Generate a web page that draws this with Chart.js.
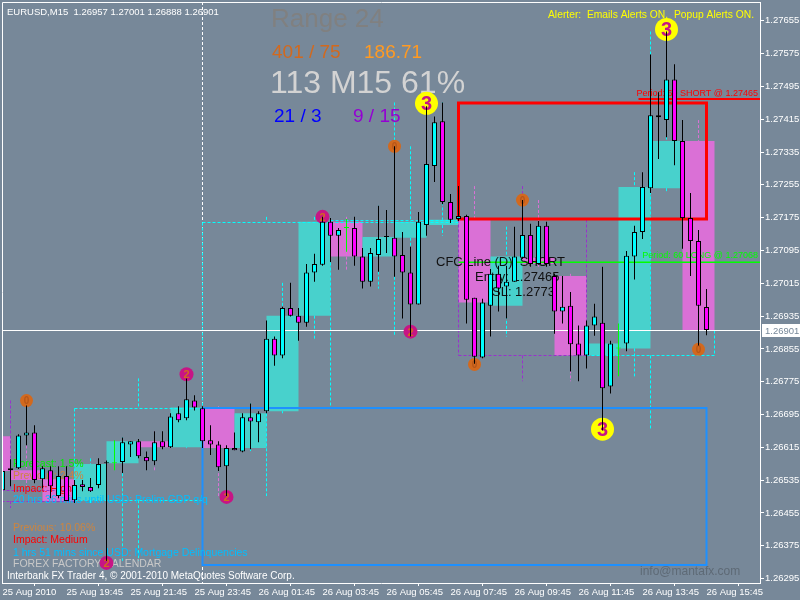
<!DOCTYPE html>
<html>
<head>
<meta charset="utf-8">
<script src="https://cdn.jsdelivr.net/npm/chart.js@4.4.1/dist/chart.umd.min.js"></script>
<style>
html,body{margin:0;padding:0;background:#778899;}
canvas{display:block;}
</style>
</head>
<body>
<canvas id="c" width="800" height="600"></canvas>
<script>
// ---------------- data (EURUSD M15, 25 Aug 17:45 .. 26 Aug 15:45) ----------------
const titleText = 'EURUSD,M15  1.26957 1.27001 1.26888 1.26901';
const opens = [1.26510,1.26559,1.26564,1.26644,1.26651,1.26537,1.26559,1.26496,1.26545,1.26486,
1.26525,1.26518,1.26523,1.26576,1.26576,1.26579,1.26622,1.26630,1.26591,1.26581,
1.26630,1.26615,1.26698,1.26686,1.26729,1.26710,1.26632,1.26622,1.26569,1.26613,
1.26605,1.26688,1.26676,1.26703,1.26880,1.26839,1.26955,1.26936,1.26919,1.27041,
1.27060,1.27165,1.27131,1.27150,1.27150,1.27080,1.27019,1.27084,1.27128,1.27126,
1.27084,1.27041,1.26963,1.27157,1.27301,1.27410,1.27213,1.27172,1.27179,1.26980,
1.26834,1.26960,1.27038,1.27007,1.27019,1.27077,1.27133,1.27062,1.27155,1.27033,
1.26946,1.26960,1.26868,1.26839,1.26912,1.26919,1.26763,1.26856,1.26868,1.27080,
1.27140,1.27247,1.27425,1.27413,1.27512,1.27362,1.27174,1.27118,1.26957];
const highs = [1.26564,1.26586,1.26647,1.26717,1.26669,1.26569,1.26569,1.26569,1.26569,1.26535,
1.26535,1.26540,1.26588,1.26583,1.26632,1.26639,1.26630,1.26635,1.26605,1.26654,
1.26654,1.26698,1.26715,1.26783,1.26742,1.26715,1.26669,1.26630,1.26620,1.26651,
1.26698,1.26722,1.26703,1.26924,1.26885,1.26958,1.27016,1.26955,1.27062,1.27087,
1.27177,1.27174,1.27150,1.27172,1.27177,1.27101,1.27101,1.27204,1.27194,1.27349,
1.27140,1.27104,1.27189,1.27447,1.27422,1.27456,1.27233,1.27252,1.27182,1.26980,
1.26977,1.27050,1.27058,1.27058,1.27153,1.27218,1.27160,1.27167,1.27165,1.27038,
1.27033,1.26994,1.26912,1.26924,1.26965,1.27055,1.26875,1.26917,1.27094,1.27155,
1.27286,1.27573,1.27481,1.27629,1.27549,1.27413,1.27235,1.27145,1.27001];
const lows = [1.26501,1.26520,1.26562,1.26620,1.26527,1.26515,1.26491,1.26491,1.26484,1.26479,
1.26508,1.26506,1.26515,1.26338,1.26559,1.26552,1.26591,1.26588,1.26559,1.26571,
1.26610,1.26613,1.26676,1.26681,1.26705,1.26613,1.26596,1.26557,1.26496,1.26608,
1.26603,1.26610,1.26627,1.26698,1.26814,1.26832,1.26934,1.26875,1.26909,1.27019,
1.27058,1.27067,1.27048,1.27092,1.27058,1.27002,1.27007,1.27043,1.27089,1.27031,
1.26929,1.26885,1.26963,1.27131,1.27262,1.27208,1.27162,1.27167,1.26917,1.26819,
1.26832,1.26885,1.26946,1.26929,1.27019,1.27075,1.27055,1.27060,1.27055,1.26892,
1.26917,1.26800,1.26776,1.26807,1.26887,1.26656,1.26746,1.26788,1.26849,1.27024,
1.27123,1.27235,1.27318,1.27371,1.27303,1.27099,1.27033,1.26863,1.26888];
const closes = [1.26557,1.26564,1.26644,1.26651,1.26535,1.26564,1.26520,1.26545,1.26484,1.26523,
1.26518,1.26508,1.26574,1.26576,1.26576,1.26627,1.26630,1.26593,1.26581,1.26627,
1.26615,1.26690,1.26681,1.26732,1.26712,1.26630,1.26622,1.26566,1.26613,1.26608,
1.26688,1.26678,1.26698,1.26880,1.26839,1.26955,1.26936,1.26919,1.27041,1.27062,
1.27165,1.27131,1.27145,1.27150,1.27080,1.27019,1.27089,1.27123,1.27128,1.27080,
1.27041,1.26963,1.27165,1.27306,1.27408,1.27213,1.27170,1.27179,1.26975,1.26836,
1.26968,1.27038,1.27002,1.27019,1.27080,1.27133,1.27062,1.27155,1.27062,1.26946,
1.26958,1.26866,1.26839,1.26912,1.26934,1.26759,1.26868,1.26856,1.27082,1.27140,
1.27250,1.27425,1.27420,1.27512,1.27362,1.27174,1.27118,1.26960,1.26901];
const greenDoji = [14, 43, 77];

const xTickIdx = [0, 8, 16, 24, 32, 40, 48, 56, 64, 72, 80, 88];
const xTickLabels = ['25 Aug 2010','25 Aug 19:45','25 Aug 21:45','25 Aug 23:45','26 Aug 01:45','26 Aug 03:45',
  '26 Aug 05:45','26 Aug 07:45','26 Aug 09:45','26 Aug 11:45','26 Aug 13:45','26 Aug 15:45'];
const yTicks = [1.26295,1.26375,1.26455,1.26535,1.26615,1.26695,1.26775,1.26855,1.26935,
  1.27015,1.27095,1.27175,1.27255,1.27335,1.27415,1.27495,1.27575,1.27655];

const prevH1Open = 1.26642;                                   // 17:00 hour open
const prevH4 = { open: 1.26510, high: 1.26729, low: 1.26467 }; // 16:00 H4 bar
const dayStartIndex = 25;
const dayBox = { from: 25, to: 88, top: 1.26712, bottom: 1.26328 };
const sessionBox = { from: 57, to: 88, top: 1.27454, bottom: 1.27172 };
const shortLevel = 1.27465, shortFrom = 79.5;
const longLevel = 1.27068, longFrom = 57;
const bidPrice = 1.26901;

const zigzag0 = [[3,1.26729],[49,1.27349],[59,1.26817],[65,1.27218],[87,1.26854]];
const zigzag2 = [[13,1.26333],[23,1.26793],[28,1.26494],[40,1.27177],[51,1.26897]];
const zigzag3 = [[53,1.27454],[75,1.26659],[83,1.27634]];

const rangeTitle = 'Range 24';
const statA = '401 / 75', statB = '186.71';
const statBig = '113 M15 61%';
const statC = '21 / 3', statD = '9 / 15';
const alerterText = 'Alerter:  Emails Alerts ON.  Popup Alerts ON.';
const shortText = 'Period: 60 SHORT @ 1.27465';
const longText = 'Period: 60 LONG @ 1.27068';
const cfcLines = ['CFC Line (D): SHORT', 'Entry: 1.27465', 'SL: 1.2773'];
const newsLines = [
  ['Forecast: 1.5%', '#00ee00'],
  ['Previous: 2.4%', '#CD853F'],
  ['Impact: High', '#FF0000'],
  ['20 hrs 36 mins until USD: Prelim GDP q/q', '#00BFFF'],
  ['Previous: 10.06%', '#CD853F'],
  ['Impact: Medium', '#FF0000'],
  ['1 hrs 51 mins since USD: Mortgage Delinquencies', '#00BFFF'],
  ['FOREX FACTORY CALENDAR', '#C8C8C8']
];
const copyrightText = 'Interbank FX Trader 4, \u00A9 2001-2010 MetaQuotes Software Corp.';
const emailText = 'info@mantafx.com';

// ---------------- aggregated H1 / H4 bars built from the M15 data ----------------
const N = opens.length;
const h1 = [{ x: -1, open: prevH1Open, close: closes[0], high: null, low: null }];
for (let s = 1; s + 3 < N; s += 4) {
  const ids = [s, s + 1, s + 2, s + 3];
  h1.push({ x: s + 2, open: opens[s], close: closes[s + 3],
    high: Math.max(...ids.map(i => highs[i])), low: Math.min(...ids.map(i => lows[i])) });
}
const h4 = [{ x: 1, from: -7, to: 9, open: prevH4.open, close: closes[8],
  high: Math.max(prevH4.high, ...highs.slice(0, 9)), low: Math.min(prevH4.low, ...lows.slice(0, 9)) }];
for (let s = 9; s + 15 < N; s += 16) {
  h4.push({ x: s + 8, from: s, to: s + 16, open: opens[s], close: closes[s + 15],
    high: Math.max(...highs.slice(s, s + 16)), low: Math.min(...lows.slice(s, s + 16)) });
}

const FONT = '"Liberation Sans", Arial, sans-serif';
const BG = '#778899';

function candleFill(i) {
  if (greenDoji.includes(i)) return '#00FF00';
  if (closes[i] > opens[i]) return '#00FFFF';
  if (closes[i] < opens[i]) return '#FF00FF';
  return '#000000';
}

// ---------------- drawing helpers ----------------
function dashV(ctx, xp, y1, y2, color) {
  if (Math.abs(y2 - y1) < 0.5) return;
  ctx.save(); ctx.strokeStyle = color; ctx.lineWidth = 1; ctx.setLineDash([3, 2]);
  const xx = Math.floor(xp) + 0.5;
  ctx.beginPath(); ctx.moveTo(xx, y1); ctx.lineTo(xx, y2); ctx.stroke(); ctx.restore();
}
function dashH(ctx, x1, x2, yp, color) {
  ctx.save(); ctx.strokeStyle = color; ctx.lineWidth = 1; ctx.setLineDash([3, 2]);
  const yy = Math.round(yp) + 0.5;
  ctx.beginPath(); ctx.moveTo(x1, yy); ctx.lineTo(x2, yy); ctx.stroke(); ctx.restore();
}
function text(ctx, s, x, y, size, color, align, weight) {
  ctx.save(); ctx.font = (weight || '') + ' ' + size + 'px ' + FONT; ctx.fillStyle = color;
  ctx.textAlign = align || 'left'; ctx.textBaseline = 'alphabetic'; ctx.fillText(s, x, y); ctx.restore();
}
function marker(ctx, xp, yp, r, fill, digit, digitColor, size) {
  ctx.save(); ctx.beginPath(); ctx.arc(xp, yp, r, 0, Math.PI * 2); ctx.fillStyle = fill; ctx.fill();
  ctx.font = 'bold ' + size + 'px ' + FONT; ctx.fillStyle = digitColor;
  ctx.textAlign = 'center'; ctx.textBaseline = 'middle'; ctx.fillText(digit, xp, yp + 1); ctx.restore();
}

function drawObjects(chart) {
  const { ctx, chartArea: a } = chart;
  const X = v => chart.scales.x.getPixelForValue(v);
  const Y = v => chart.scales.y.getPixelForValue(v);
  ctx.save();
  ctx.beginPath(); ctx.rect(a.left, a.top, a.right - a.left, a.bottom - a.top); ctx.clip();

  // day separator
  dashV(ctx, X(dayStartIndex), a.top, a.bottom, '#FFFFFF');

  // H1 wicks
  h1.forEach(b => {
    if (b.high == null) return;
    const col = b.close >= b.open ? '#00FFFF' : '#DA70D6';
    const top = Math.max(b.open, b.close), bot = Math.min(b.open, b.close);
    dashV(ctx, X(b.x), Y(b.high), Y(top), col);
    dashV(ctx, X(b.x), Y(bot), Y(b.low), col);
  });

  // H4 bars (dashed outline + wicks)
  h4.forEach(b => {
    const col = b.close >= b.open ? '#00FFFF' : '#9932CC';
    const top = Math.max(b.open, b.close), bot = Math.min(b.open, b.close);
    const x1 = X(b.from), x2 = X(b.to), yt = Y(top), yb = Y(bot);
    dashH(ctx, x1, x2, yt, col); dashH(ctx, x1, x2, yb, col);
    dashV(ctx, x1, Math.round(yt) + 0.5, Math.round(yb) + 0.5, col);
    dashV(ctx, x2, Math.round(yt) + 0.5, Math.round(yb) + 0.5, col);
    dashV(ctx, X(b.x), Y(b.high), yt, col);
    dashV(ctx, X(b.x), yb, Y(b.low), col);
  });

  // day box (blue) and session box (red)
  ctx.save();
  ctx.lineWidth = 2; ctx.strokeStyle = '#1E90FF';
  ctx.strokeRect(X(dayBox.from), Math.round(Y(dayBox.top)), X(dayBox.to) - X(dayBox.from), Math.round(Y(dayBox.bottom)) - Math.round(Y(dayBox.top)));
  ctx.lineWidth = 3; ctx.strokeStyle = '#FF0000';
  ctx.strokeRect(X(sessionBox.from), Math.round(Y(sessionBox.top)), X(sessionBox.to) - X(sessionBox.from), Math.round(Y(sessionBox.bottom)) - Math.round(Y(sessionBox.top)));
  ctx.restore();

  // period levels
  ctx.save();
  ctx.strokeStyle = '#FF0000'; ctx.lineWidth = 2;
  ctx.beginPath(); ctx.moveTo(X(shortFrom), Math.round(Y(shortLevel))); ctx.lineTo(a.right, Math.round(Y(shortLevel))); ctx.stroke();
  ctx.strokeStyle = '#00FF00'; ctx.lineWidth = 1.5;
  ctx.beginPath(); ctx.moveTo(X(longFrom), Math.round(Y(longLevel)) + 0.25); ctx.lineTo(a.right, Math.round(Y(longLevel)) + 0.25); ctx.stroke();
  ctx.restore();
  text(ctx, shortText, a.right - 2, Math.round(Y(shortLevel)) - 3, 9, '#FF0000', 'right');
  text(ctx, longText, a.right - 2, Math.round(Y(longLevel)) - 4, 9, '#00FF00', 'right');

  // bid line
  ctx.save(); ctx.strokeStyle = '#FFFFFF'; ctx.lineWidth = 1;
  const yb = Math.round(Y(bidPrice)) + 0.5;
  ctx.beginPath(); ctx.moveTo(a.left, yb); ctx.lineTo(a.right, yb); ctx.stroke(); ctx.restore();

  // CFC labels
  text(ctx, cfcLines[0], 436, 266, 13, '#111111');
  text(ctx, cfcLines[1], 475, 281, 13, '#111111');
  text(ctx, cfcLines[2], 492, 296, 13, '#111111');

  // news block
  const newsY = [467, 479, 492, 503, 531, 543, 556, 567];
  newsLines.forEach((n, k) => text(ctx, n[0], 13, newsY[k], 10.5, n[1]));

  // top texts
  text(ctx, titleText, 7, 15, 9.5, '#FFFFFF');
  text(ctx, rangeTitle, 271, 27, 26, '#808080');
  text(ctx, statA, 272, 58, 19, '#D2691E');
  text(ctx, statB, 364, 58, 19, '#FF9A22');
  text(ctx, statBig, 270, 93, 32, '#D3D3D3');
  text(ctx, statC, 274, 122, 19, '#0000FF');
  text(ctx, statD, 353, 122, 19, '#9400D3');
  text(ctx, alerterText, 754, 18, 10.3, '#FFFF00', 'right');
  text(ctx, copyrightText, 7, 579, 10, '#FFFFFF');
  text(ctx, emailText, 640, 575, 12, '#5E6A76');

  // zigzag markers
  zigzag0.forEach(p => marker(ctx, X(p[0]), Y(p[1]), 6.5, '#D2691E', '0', '#B5561A', 10));
  zigzag2.forEach(p => marker(ctx, X(p[0]), Y(p[1]), 7, '#C71585', '2', '#D2691E', 11));
  zigzag3.forEach(p => marker(ctx, X(p[0]), Y(p[1]), 11.5, '#FFFF00', '3', '#C71585', 20));

  ctx.restore();
}

const mt4Plugin = {
  id: 'mt4',
  beforeDraw(chart) {
    const { ctx, width, height } = chart;
    ctx.save(); ctx.fillStyle = BG; ctx.fillRect(0, 0, width, height); ctx.restore();
  },
  afterDatasetDraw(chart, args) {
    if (args.index === 0) drawObjects(chart);
  },
  afterDraw(chart) {
    const { ctx, chartArea: a } = chart;
    ctx.save();
    ctx.strokeStyle = '#FFFFFF'; ctx.lineWidth = 1;
    ctx.beginPath();
    ctx.moveTo(a.left + 0.5, a.bottom); ctx.lineTo(a.left + 0.5, a.top + 0.5); ctx.lineTo(a.right + 0.5, a.top + 0.5);
    ctx.stroke();
    const yb = Math.round(chart.scales.y.getPixelForValue(bidPrice));
    ctx.fillStyle = '#FFFFFF'; ctx.fillRect(a.right + 2, yb - 6, 800 - a.right - 2, 13);
    ctx.font = '9.5px ' + FONT; ctx.fillStyle = BG; ctx.textBaseline = 'middle'; ctx.textAlign = 'left';
    ctx.fillText(bidPrice.toFixed(5), a.right + 5, yb + 1);
    ctx.restore();
  }
};

new Chart(document.getElementById('c'), {
  type: 'bar',
  data: {
    datasets: [
      { label: 'H1', data: h1.map(b => ({ x: b.x, y: [b.open, b.close] })),
        backgroundColor: h1.map(b => b.close >= b.open ? '#48D1CC' : '#DA70D6'),
        borderWidth: 0, barThickness: 32, inflateAmount: 0, order: 3, stack: 'p' },
      { label: 'Wick', data: opens.map((o, i) => ({ x: i, y: [lows[i], highs[i]] })),
        backgroundColor: opens.map((o, i) => greenDoji.includes(i) ? '#00FF00' : '#000000'),
        borderWidth: 0, barThickness: 1, inflateAmount: 0, order: 2, stack: 'p' },
      { label: 'Body', data: opens.map((o, i) => ({ x: i, y: [o, closes[i]] })),
        backgroundColor: opens.map((o, i) => candleFill(i)),
        borderColor: opens.map((o, i) => greenDoji.includes(i) ? '#00FF00' : '#000000'),
        borderWidth: 1, borderSkipped: false, barThickness: 5, minBarLength: 1, inflateAmount: 0, order: 1, stack: 'p' }
    ]
  },
  options: {
    responsive: false, animation: false, events: [],
    layout: { padding: { left: 2, top: 2, right: 0, bottom: 0 } },
    plugins: { legend: { display: false }, tooltip: { enabled: false } },
    scales: {
      x: {
        type: 'linear', min: -0.0625, max: 94.6875, offset: false, stacked: true,
        afterBuildTicks: s => { s.ticks = xTickIdx.map(v => ({ value: v })); },
        afterFit: s => { s.height = 17; s.paddingLeft = 0; s.paddingRight = 0; },
        grid: { drawOnChartArea: false, drawTicks: true, tickLength: 3, color: '#FFFFFF' },
        border: { display: true, color: '#FFFFFF', width: 1 },
        ticks: { autoSkip: false, maxRotation: 0, minRotation: 0, align: 'start', padding: 1,
          color: '#FFFFFF', font: { size: 9.5, family: FONT },
          callback: v => { const k = xTickIdx.indexOf(Math.round(v)); return k >= 0 ? xTickLabels[k] : ''; } }
      },
      y: {
        type: 'linear', position: 'right', min: 1.26284, max: 1.27701, stacked: false,
        afterBuildTicks: s => { s.ticks = yTicks.map(v => ({ value: v })); },
        afterFit: s => { s.width = 40; s.paddingTop = 0; s.paddingBottom = 0; },
        grid: { drawOnChartArea: false, drawTicks: true, tickLength: 4, color: '#FFFFFF' },
        border: { display: true, color: '#FFFFFF', width: 1 },
        ticks: { autoSkip: false, padding: 1, color: '#FFFFFF', font: { size: 9.5, family: FONT },
          callback: v => Number(v).toFixed(5) }
      }
    }
  },
  plugins: [mt4Plugin]
});
</script>
</body>
</html>
